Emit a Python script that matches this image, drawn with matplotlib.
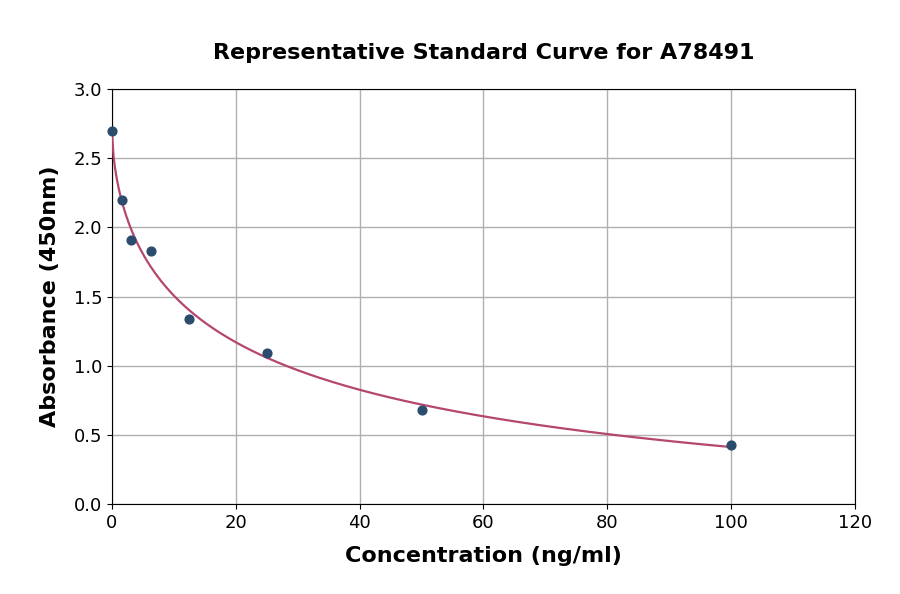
import numpy as np
import matplotlib
matplotlib.use("Agg")
import matplotlib.pyplot as plt

# ----------------------------
# Datos
# ----------------------------
conc = [0, 1.5625, 3.125, 6.25, 12.5, 25, 50, 100]
absorb = [2.70, 2.20, 1.91, 1.83, 1.34, 1.09, 0.68, 0.43]
x_ticks = [0, 20, 40, 60, 80, 100, 120]
y_ticks = [0.0, 0.5, 1.0, 1.5, 2.0, 2.5, 3.0]

POINT_COLOR = "#2c4c6e"
CURVE_COLOR = "#b5476f"


def logistica(x, p):
    a, b, c, d = p
    x = np.asarray(x, dtype=float)
    return d + (a - d) / (1.0 + (np.clip(x, 0, None) / c) ** b)


def ajustar_4pl(x, y):
    # Levenberg-Marquardt sencillo con jacobiano numerico
    x = np.asarray(x, float)
    y = np.asarray(y, float)
    p = np.array([2.7, 1.0, 15.0, 0.0])
    lam = 1e-2
    for _ in range(500):
        r = y - logistica(x, p)
        J = np.zeros((len(x), 4))
        for k in range(4):
            dp = np.zeros(4)
            dp[k] = 1e-6 * max(1.0, abs(p[k]))
            J[:, k] = (logistica(x, p + dp) - logistica(x, p)) / dp[k]
        H = J.T @ J
        g = J.T @ r
        paso = np.linalg.solve(H + lam * np.diag(np.diag(H)), g)
        nuevo = p + paso
        if nuevo[2] > 0 and np.sum((y - logistica(x, nuevo)) ** 2) < np.sum(r ** 2):
            p = nuevo
            lam *= 0.5
        else:
            lam *= 4
    return p


params = ajustar_4pl(conc, absorb)
xs = np.linspace(0, max(conc), 400)

fig = plt.figure(figsize=(9, 5.94), dpi=100)
ax = fig.add_axes([0.1244, 0.1515, 0.8256, 0.6985])

ax.plot(xs, logistica(xs, params), color=CURVE_COLOR, lw=1.6, zorder=3)
ax.scatter(conc, absorb, color=POINT_COLOR, s=40, zorder=4, clip_on=False)

ax.set_xlim(0, 120)
ax.set_ylim(0, 3.0)
ax.set_xticks(x_ticks)
ax.set_yticks(y_ticks)
ax.set_yticklabels([f"{v:.1f}" for v in y_ticks])
ax.tick_params(labelsize=13)
ax.grid(True, color="#b0b0b0", lw=1.0)
ax.set_axisbelow(True)

ax.set_title("Representative Standard Curve for A78491", fontsize=16,
             fontweight="bold", pad=22)
ax.set_xlabel("Concentration (ng/ml)", fontsize=16, fontweight="bold", labelpad=10)
ax.set_ylabel("Absorbance (450nm)", fontsize=16, fontweight="bold", labelpad=10)

fig.savefig("out.png", dpi=100)
